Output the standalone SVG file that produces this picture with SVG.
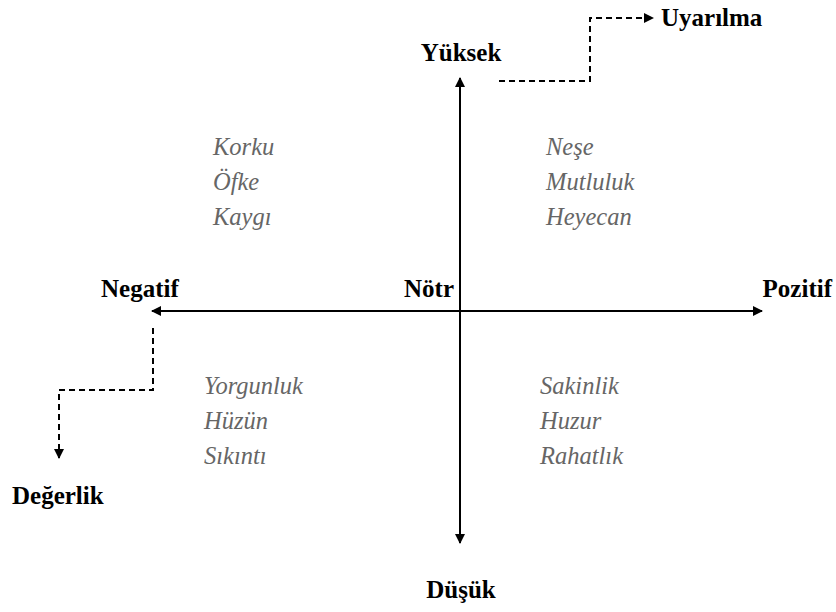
<svg xmlns="http://www.w3.org/2000/svg" width="836" height="612" viewBox="0 0 836 612">
<style>
.lbl{font-family:'Liberation Serif',serif;font-weight:bold;font-size:25px;fill:#000}
.emo{font-family:'Liberation Serif',serif;font-style:italic;font-size:24.5px;fill:#666}
</style>
<defs>
<marker id="ah" viewBox="0 0 10 10" refX="9" refY="5" markerWidth="5" markerHeight="5" orient="auto" markerUnits="strokeWidth">
<path d="M0,0 L10,5 L0,10 z" fill="#000"/>
</marker>
</defs>
<rect width="836" height="612" fill="#fff"/>
<g id="connectors" stroke="#000" stroke-width="2" fill="none">
<line x1="460" y1="311" x2="460" y2="78" marker-end="url(#ah)"/>
<line x1="460" y1="311" x2="460" y2="543" marker-end="url(#ah)"/>
<line x1="460" y1="311" x2="152" y2="311" marker-end="url(#ah)"/>
<line x1="460" y1="311" x2="762" y2="311" marker-end="url(#ah)"/>
<path d="M499,81 H590 V18 H653" stroke-dasharray="6,4" marker-end="url(#ah)"/>
<path d="M153,328 V390 H59 V458" stroke-dasharray="6,4" marker-end="url(#ah)"/>
</g>
<g id="yuksek"><text class="lbl" font-family="Liberation Serif" x="461" y="61" text-anchor="middle">Yüksek</text></g>
<g id="uyarilma"><text class="lbl" font-family="Liberation Serif" x="661" y="26">Uyarılma</text></g>
<g id="negatif"><text class="lbl" font-family="Liberation Serif" x="101" y="297">Negatif</text></g>
<g id="notr"><text class="lbl" font-family="Liberation Serif" x="454" y="297" text-anchor="end">Nötr</text></g>
<g id="pozitif"><text class="lbl" font-family="Liberation Serif" x="832" y="297" text-anchor="end">Pozitif</text></g>
<g id="degerlik"><text class="lbl" font-family="Liberation Serif" x="12" y="504">Değerlik</text></g>
<g id="dusuk"><text class="lbl" font-family="Liberation Serif" x="461" y="598" text-anchor="middle">Düşük</text></g>
<g id="q-negatif-yuksek" font-family="Liberation Serif">
<text class="emo" x="213" y="155">Korku</text>
<text class="emo" x="213" y="190">Öfke</text>
<text class="emo" x="213" y="225">Kaygı</text>
</g>
<g id="q-pozitif-yuksek" font-family="Liberation Serif">
<text class="emo" x="546" y="155">Neşe</text>
<text class="emo" x="546" y="190">Mutluluk</text>
<text class="emo" x="546" y="225">Heyecan</text>
</g>
<g id="q-negatif-dusuk" font-family="Liberation Serif">
<text class="emo" x="204" y="394">Yorgunluk</text>
<text class="emo" x="204" y="429">Hüzün</text>
<text class="emo" x="204" y="464">Sıkıntı</text>
</g>
<g id="q-pozitif-dusuk" font-family="Liberation Serif">
<text class="emo" x="540" y="394">Sakinlik</text>
<text class="emo" x="540" y="429">Huzur</text>
<text class="emo" x="540" y="464">Rahatlık</text>
</g>
</svg>
